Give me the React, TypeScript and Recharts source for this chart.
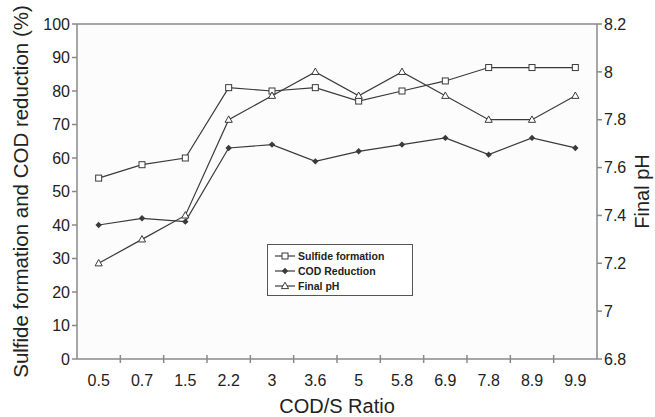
import { CartesianGrid, Legend, Line, LineChart, ReferenceLine, XAxis, YAxis } from "recharts";

const ratios = ["0.5", "0.7", "1.5", "2.2", "3", "3.6", "5", "5.8", "6.9", "7.8", "8.9", "9.9"];
const sulfide = [54, 58, 60, 81, 80, 81, 77, 80, 83, 87, 87, 87];
const codReduction = [40, 42, 41, 63, 64, 59, 62, 64, 66, 61, 66, 63];
const finalPh = [7.2, 7.3, 7.4, 7.8, 7.9, 8.0, 7.9, 8.0, 7.9, 7.8, 7.8, 7.9];
const leftTicks = [0, 10, 20, 30, 40, 50, 60, 70, 80, 90, 100];
const rightTicks = [6.8, 7, 7.2, 7.4, 7.6, 7.8, 8, 8.2];

const data = ratios.map((r, i) => ({
  ratio: r,
  sulfide: sulfide[i],
  cod: codReduction[i],
  ph: finalPh[i],
}));

const W = 655;
const H = 417;
const PLOT_L = 77;
const PLOT_R = 597;
const PLOT_T = 24;
const PLOT_B = 359;
const band = (PLOT_R - PLOT_L) / ratios.length;

const ink = "#3a3a3a";
const axisGray = "#8a8a8a";
const font = "'Liberation Sans', Arial, sans-serif";

const SquareDot = (p: any) => (
  <rect x={p.cx - 3} y={p.cy - 3} width={6} height={6} fill="#fff" stroke={ink} strokeWidth={1} />
);
const DiamondDot = (p: any) => (
  <path d={`M${p.cx},${p.cy - 3.2}L${p.cx + 3.2},${p.cy}L${p.cx},${p.cy + 3.2}L${p.cx - 3.2},${p.cy}Z`} fill={ink} />
);
const TriangleDot = (p: any) => (
  <path
    d={`M${p.cx},${p.cy - 3.8}L${p.cx + 3.6},${p.cy + 2.6}L${p.cx - 3.6},${p.cy + 2.6}Z`}
    fill="#fff"
    stroke={ink}
    strokeWidth={1}
  />
);

const XTick = ({ x, y, payload, index }: any) => (
  <g>
    <text x={x} y={y + 27} textAnchor="middle" fontSize={16} fill="#222" fontFamily={font}>
      {payload.value}
    </text>
    {index < ratios.length - 1 && (
      <line x1={x + band / 2} x2={x + band / 2} y1={y - 4} y2={y + 4} stroke={axisGray} strokeWidth={1.5} />
    )}
  </g>
);

const legendItems = [
  { label: "Sulfide formation", Dot: SquareDot },
  { label: "COD Reduction", Dot: DiamondDot },
  { label: "Final pH", Dot: TriangleDot },
];

const LegendBox = () => (
  <div
    style={{
      border: "1.5px solid #555",
      background: "#fff",
      padding: "3px 6px",
      width: 146,
      fontFamily: font,
      fontSize: 10.5,
      fontWeight: "bold",
      color: "#222",
      boxSizing: "border-box",
      height: 52,
    }}
  >
    {legendItems.map(({ label, Dot }) => (
      <div key={label} style={{ display: "flex", alignItems: "center", height: 15 }}>
        <svg width={22} height={10} style={{ marginRight: 2 }}>
          <line x1={1} x2={21} y1={5} y2={5} stroke={ink} strokeWidth={1.2} />
          <Dot cx={11} cy={5} />
        </svg>
        {label}
      </div>
    ))}
  </div>
);

export default function App() {
  return (
    <div style={{ position: "absolute", left: 0, top: 0, width: W, height: H, background: "#fff" }}>
      <LineChart
        width={W}
        height={H}
        data={data}
        margin={{ top: PLOT_T, right: 0, bottom: 0, left: 0 }}
        style={{ fontFamily: font }}
      >
        <CartesianGrid horizontal={false} vertical={false} fill="#fcfcfc" />
        <XAxis
          dataKey="ratio"
          height={H - PLOT_B}
          padding={{ left: band / 2, right: band / 2 }}
          tickLine={false}
          tickSize={0}
          tickMargin={0}
          axisLine={{ stroke: axisGray, strokeWidth: 1.5 }}
          tick={<XTick />}
          interval={0}
          label={{ value: "COD/S Ratio", position: "insideBottom", offset: 4, fontSize: 20, fill: "#222" }}
        />
        <YAxis
          yAxisId="left"
          domain={[0, 100]}
          ticks={leftTicks}
          width={PLOT_L}
          tickSize={5}
          tickMargin={2}
          tickLine={{ stroke: axisGray, strokeWidth: 1.5 }}
          axisLine={{ stroke: axisGray, strokeWidth: 1.5 }}
          tick={{ fontSize: 16, fill: "#222" }}
          interval={0}
          label={{
            value: "Sulfide formation and COD reduction (%)",
            angle: -90,
            position: "insideLeft",
            offset: 21,
            fontSize: 20.5,
            fill: "#222",
            style: { textAnchor: "middle" },
          }}
        />
        <YAxis
          yAxisId="right"
          orientation="right"
          domain={[6.8, 8.2]}
          ticks={rightTicks}
          width={W - PLOT_R}
          tickSize={5}
          tickMargin={2}
          tickLine={{ stroke: axisGray, strokeWidth: 1.5 }}
          axisLine={{ stroke: axisGray, strokeWidth: 1.5 }}
          tick={{ fontSize: 16, fill: "#222" }}
          interval={0}
          label={{
            value: "Final pH",
            angle: -90,
            position: "insideRight",
            offset: 13,
            fontSize: 20,
            fill: "#222",
            style: { textAnchor: "middle" },
          }}
        />
        <ReferenceLine yAxisId="left" y={100} stroke={axisGray} strokeWidth={1.5} />
        <Line
          yAxisId="left"
          dataKey="sulfide"
          name="Sulfide formation"
          stroke={ink}
          strokeWidth={1.2}
          dot={<SquareDot />}
          isAnimationActive={false}
        />
        <Line
          yAxisId="left"
          dataKey="cod"
          name="COD Reduction"
          stroke={ink}
          strokeWidth={1.2}
          dot={<DiamondDot />}
          isAnimationActive={false}
        />
        <Line
          yAxisId="right"
          dataKey="ph"
          name="Final pH"
          stroke={ink}
          strokeWidth={1.2}
          dot={<TriangleDot />}
          isAnimationActive={false}
        />
        <Legend
          layout="horizontal"
          verticalAlign="middle"
          align="center"
          content={<LegendBox />}
          wrapperStyle={{ left: 267, top: 244, width: 162 }}
        />
      </LineChart>
    </div>
  );
}
